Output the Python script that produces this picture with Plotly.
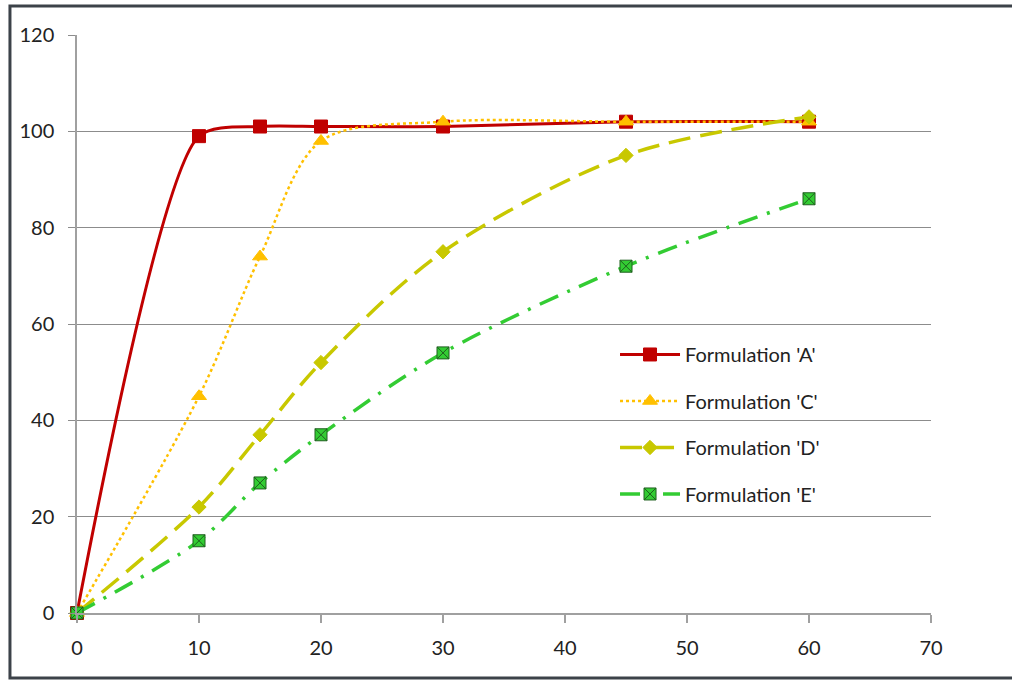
import plotly.graph_objects as go

# Sampling times (x) and dissolution values for each formulation
times = [0, 10, 15, 20, 30, 45, 60]
form_a = [0, 99, 101, 101, 101, 102, 102]
form_c = [0, 45, 74, 98, 102, 102, 102]
form_d = [0, 22, 37, 52, 75, 95, 103]
form_e = [0, 15, 27, 37, 54, 72, 86]

names = ["Formulation 'A'", "Formulation 'C'", "Formulation 'D'", "Formulation 'E'"]
x_ticks = [0, 10, 20, 30, 40, 50, 60, 70]
y_ticks = [0, 20, 40, 60, 80, 100, 120]

FONT = "Lato, 'Open Sans', sans-serif"

styles = [
    dict(color="#C00000", dash="solid", width=3, symbol="square", msize=13, mline="#C00000", smooth=0.7),
    dict(color="#FFC000", dash="dot", width=2.5, symbol="triangle-up", msize=13, mline="#FFC000", smooth=0.9),
    dict(color="#C8C800", dash="22px,10px", width=3.5, symbol="diamond", msize=11, mline="#C8C800", smooth=0.9),
    dict(color="#33CC33", dash="20px,10px,3px,10px", width=3.5, symbol="square-x", msize=12, mline="#1E5E1E", smooth=0.9),
]

fig = go.Figure()
for i, (name, ys, st) in enumerate(zip(names, [form_a, form_c, form_d, form_e], styles)):
    fig.add_trace(go.Scatter(
        x=times, y=ys, name=name, mode="lines+markers",
        legendgroup=f"g{i}", cliponaxis=False,
        line=dict(color=st["color"], dash=st["dash"], width=st["width"], shape="spline", smoothing=st["smooth"]),
        marker=dict(symbol=st["symbol"], size=st["msize"], color=st["color"],
                    line=dict(color=st["mline"], width=1)),
    ))

fig.update_layout(
    width=1012, height=680,
    margin=dict(l=77, r=81, t=35, b=67),
    paper_bgcolor="white", plot_bgcolor="white",
    font=dict(family=FONT, size=20, color="#222222"),
    showlegend=True,
    legend=dict(x=0.63, y=0.481, xanchor="left", yanchor="top",
                bgcolor="rgba(255,255,255,0)", font=dict(family=FONT, size=20, color="#222222"),
                tracegroupgap=17.5, itemwidth=60),
    xaxis=dict(range=[0, 70], tickvals=x_ticks, showgrid=False, zeroline=False,
               showline=True, linecolor="#A0A0A0", linewidth=1.5,
               ticks="outside", ticklen=8, tickcolor="#A0A0A0", tickwidth=1.5,
               ticklabelstandoff=8, tickfont=dict(size=20)),
    yaxis=dict(range=[0, 120], tickvals=y_ticks, showgrid=True, gridcolor="#8C8C8C", gridwidth=1.2,
               zeroline=False, showline=True, linecolor="#A0A0A0", linewidth=1.5,
               ticks="outside", ticklen=7, tickcolor="#8C8C8C", tickwidth=1.2,
               ticklabelstandoff=10, tickfont=dict(size=20)),
    shapes=[dict(type="rect", xref="paper", yref="paper",
                 x0=-0.0785, x1=1.1, y0=-0.1125, y1=1.05,
                 line=dict(color="#3C4249", width=3), fillcolor="rgba(0,0,0,0)", layer="below")],
)

fig.write_html("out.html")
